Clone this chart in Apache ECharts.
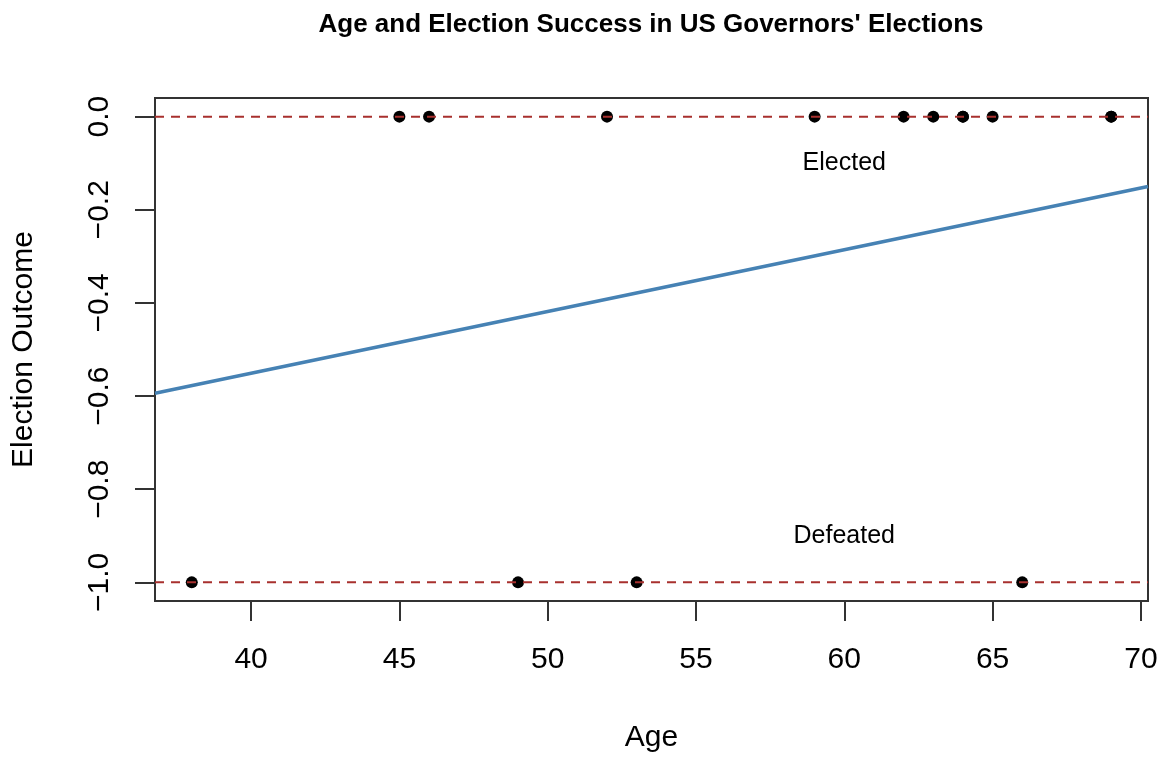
<!DOCTYPE html>
<html>
<head>
<meta charset="utf-8">
<script src="https://cdn.jsdelivr.net/npm/echarts@6/dist/echarts.min.js"></script>
<style>
  html, body { margin: 0; padding: 0; background: #fff; }
  #chart { width: 1169px; height: 759px; }
</style>
</head>
<body>
<div id="chart"></div>
<script>
// ages of winners (outcome 0) and losers (outcome -1)
var electedAges = [45, 46, 52, 59, 62, 63, 64, 64, 65, 69, 69];
var defeatedAges = [38, 49, 53, 66];
var electedValue = 0;
var defeatedValue = -1;

// fitted line, read at the two plot edges
var fitX = [36.76, 70.24];
var fitY = [-0.594, -0.150];

// axis ranges and ticks
var xRange = [36.76, 70.24];
var yRange = [-1.04, 0.04];
var xTicks = [40, 45, 50, 55, 60, 65, 70];
var yTicks = [-1.0, -0.8, -0.6, -0.4, -0.2, 0.0];

// text labels inside the plot
var noteNames = ['Elected', 'Defeated'];
var noteX = [60, 60];
var noteY = [-0.1, -0.9];

var font = 'Liberation Sans, Arial, Helvetica, sans-serif';

function pairs(xs, ys) {
    var out = [];
    for (var i = 0; i < xs.length; i++) out.push([xs[i], ys[i]]);
    return out;
}
function fixed(xs, y) {
    return xs.map(function (x) { return [x, y]; });
}

var myChart = echarts.init(document.getElementById('chart'));

var option = {
    backgroundColor: '#fff',
    animation: false,
    title: {
        text: "Age and Election Success in US Governors' Elections",
        left: 651,
        top: 12,
        padding: 0,
        textAlign: 'center',
        textStyle: { fontFamily: font, fontSize: 26, fontWeight: 'bold', color: '#000' }
    },
    grid: {
        left: 155, right: 21, top: 98, bottom: 158,
        show: true,
        borderColor: '#333',
        borderWidth: 2
    },
    xAxis: {
        type: 'value',
        min: xRange[0],
        max: xRange[1],
        name: 'Age',
        nameLocation: 'middle',
        nameGap: 122,
        nameTextStyle: { fontFamily: font, fontSize: 30, color: '#000' },
        axisLine: { show: false, onZero: false },
        axisTick: { show: true, length: 20, customValues: xTicks, lineStyle: { color: '#333', width: 2 } },
        axisLabel: {
            customValues: xTicks,
            margin: 44,
            fontFamily: font, fontSize: 30, color: '#000'
        },
        splitLine: { show: false }
    },
    yAxis: {
        type: 'value',
        min: yRange[0],
        max: yRange[1],
        name: 'Election Outcome',
        nameLocation: 'middle',
        nameGap: 116,
        nameRotate: 90,
        nameTextStyle: { fontFamily: font, fontSize: 30, color: '#000' },
        axisLine: { show: false, onZero: false },
        axisTick: { show: true, length: 20, customValues: yTicks, lineStyle: { color: '#333', width: 2 } },
        axisLabel: {
            customValues: yTicks,
            rotate: 90,
            margin: 40,
            fontFamily: font, fontSize: 30, color: '#000',
            formatter: function (v) {
                var s = Math.abs(v) < 1e-9 ? '0.0' : v.toFixed(1);
                return s.replace('-', '\u2212');
            }
        },
        splitLine: { show: false }
    },
    series: [
        {
            type: 'scatter',
            data: fixed(electedAges, electedValue),
            symbol: 'circle',
            symbolSize: 12,
            itemStyle: { color: '#000', opacity: 1 },
            z: 2
        },
        {
            type: 'scatter',
            data: fixed(defeatedAges, defeatedValue),
            symbol: 'circle',
            symbolSize: 12,
            itemStyle: { color: '#000', opacity: 1 },
            z: 2
        },
        {
            type: 'line',
            data: fixed(xRange, electedValue),
            symbol: 'none',
            lineStyle: { color: '#a8302e', width: 2, type: [9, 7] },
            z: 3
        },
        {
            type: 'line',
            data: fixed(xRange, defeatedValue),
            symbol: 'none',
            lineStyle: { color: '#a8302e', width: 2, type: [9, 7] },
            z: 3
        },
        {
            type: 'line',
            data: pairs(fitX, fitY),
            symbol: 'none',
            lineStyle: { color: '#4682b4', width: 3.5 },
            z: 4
        },
        {
            type: 'scatter',
            data: noteNames.map(function (n, i) { return { name: n, value: [noteX[i], noteY[i]] }; }),
            symbolSize: 0,
            itemStyle: { opacity: 1 },
            label: {
                show: true,
                position: 'inside',
                formatter: '{b}',
                opacity: 1,
                fontFamily: font, fontSize: 25, color: '#000'
            },
            z: 5
        }
    ]
};

myChart.setOption(option);
</script>
</body>
</html>
